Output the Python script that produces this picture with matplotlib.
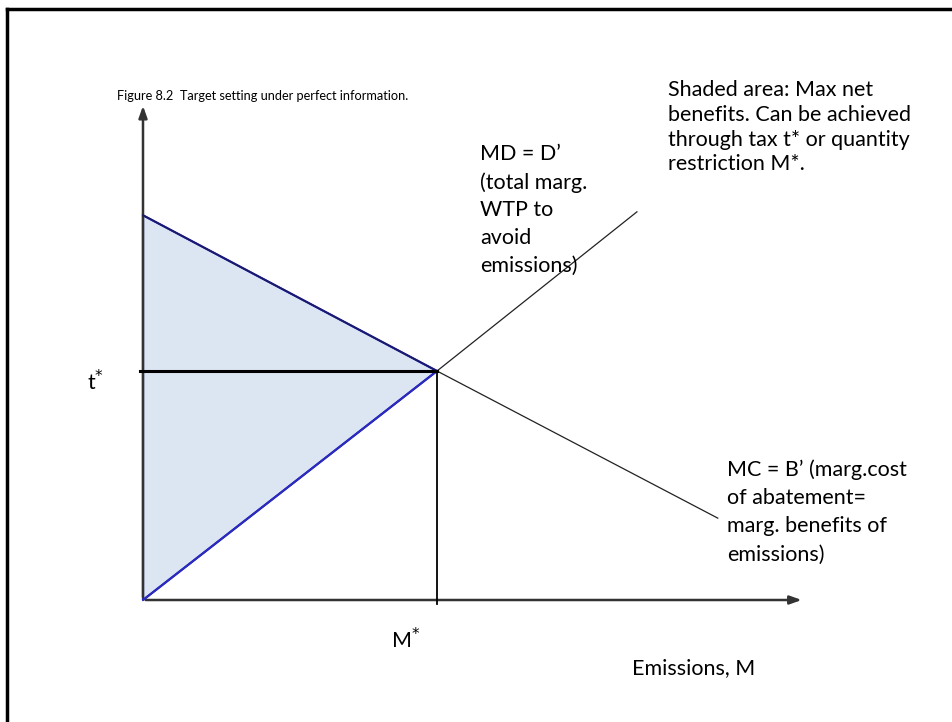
import matplotlib.pyplot as plt
from matplotlib.lines import Line2D

plt.rcParams['font.family'] = ['Lato', 'DejaVu Sans']

# ==========================================
# 1. MODEL VALUES (abstract units)
# ==========================================
m_star = 4.0          # optimal emissions M*
t_star = 4.0          # optimal tax t*
mc_x = [0.0, m_star, 7.82]     # MC = B' (falling)
mc_y = [6.72, t_star, 1.43]
md_x = [0.0, m_star, 6.72]     # MD = D' (rising)
md_y = [0.0, t_star, 6.78]
shade_x = [0.0, m_star, 0.0]
shade_y = [6.72, t_star, 0.0]
x_axis_end = 9.0
y_axis_end = 8.68

# ==========================================
# 2. FIGURE
# ==========================================
W, H = 953, 722
fig = plt.figure(figsize=(W / 100, H / 100), dpi=100)
ax = fig.add_axes([0, 0, 1, 1])
# origin sits at pixel (143, 600); 73.5 px per x unit, 57.25 px per y unit
ax.set_xlim(-143 / 73.5, (W - 143) / 73.5)
ax.set_ylim(-(H - 600) / 57.25, 600 / 57.25)
ax.axis('off')

# shaded net-benefit triangle
ax.fill(shade_x, shade_y, facecolor='#dce6f2', edgecolor='#2b2bc4', lw=1.6, zorder=1)

# MC and MD curves
ax.plot(mc_x, mc_y, color='#222222', lw=0.9, zorder=3)
ax.plot(md_x, md_y, color='#222222', lw=0.9, zorder=3)
ax.plot(mc_x[:2], mc_y[:2], color='#1a1a70', lw=1.2, zorder=3)
ax.plot(md_x[:2], md_y[:2], color='#2b2bc4', lw=1.4, zorder=3)

# t* and M* guides
ax.plot([-0.04, m_star], [t_star, t_star], color='black', lw=2.2, zorder=4)
ax.plot([m_star, m_star], [-0.07, t_star], color='black', lw=1.3, zorder=4)

# axes with arrows
arrow = dict(arrowstyle='-|>,head_length=0.7,head_width=0.25', color='#333333', lw=1.8)
ax.annotate('', xy=(x_axis_end, 0), xytext=(0, 0), arrowprops=arrow, zorder=2)
ax.annotate('', xy=(0, y_axis_end), xytext=(0, 0), arrowprops=arrow, zorder=2)

# ==========================================
# 3. TEXT
# ==========================================
def px(x, y):
    return x / W, 1 - y / H

fs = 15.5
fig.text(*px(117, 96), 'Figure 8.2  Target setting under perfect information.',
         fontsize=9.2, va='center', ha='left')
fig.text(*px(668, 80), 'Shaded area: Max net\nbenefits. Can be achieved\n'
         'through tax t* or quantity\nrestriction M*.',
         fontsize=fs, va='top', ha='left', linespacing=1.3)
fig.text(*px(480, 144), 'MD = D\u2019\n(total marg.\nWTP to\navoid\nemissions)',
         fontsize=fs, va='top', ha='left', linespacing=1.48)
fig.text(*px(727, 459), 'MC = B\u2019 (marg.cost\nof abatement=\nmarg. benefits of\nemissions)',
         fontsize=fs, va='top', ha='left', linespacing=1.52)
fig.text(*px(87, 382), 't$^{*}$', fontsize=fs, va='center', ha='left')
fig.text(*px(391, 640), 'M$^{*}$', fontsize=fs, va='center', ha='left')
fig.text(*px(632, 668), 'Emissions, M', fontsize=fs, va='center', ha='left')

# slide border (top and left edges)
fig.add_artist(Line2D([7 / W, 1], [1 - 9 / H, 1 - 9 / H], transform=fig.transFigure,
                      color='black', lw=2.5))
fig.add_artist(Line2D([7 / W, 7 / W], [0, 1 - 9 / H], transform=fig.transFigure,
                      color='black', lw=2.5))

plt.savefig('out.png', dpi=100)
